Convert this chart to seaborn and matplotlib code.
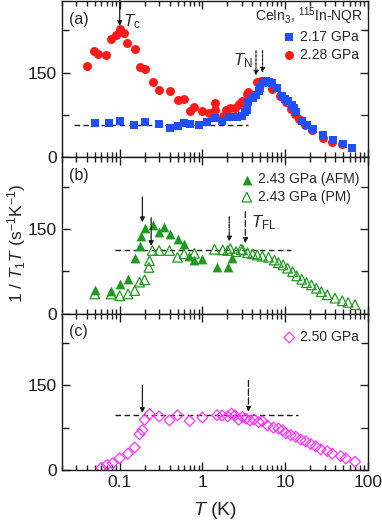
import numpy as np
import matplotlib
matplotlib.use("Agg")
import matplotlib.pyplot as plt
from matplotlib.ticker import MultipleLocator, LogLocator, NullFormatter
import seaborn as sns

# (a) 2.17 GPa, squares
t_217 = [0.050, 0.074, 0.10, 0.15, 0.20, 0.30, 0.40, 0.50, 0.60, 0.70, 0.90, 1.14, 1.43,
         1.73, 2.11, 2.3, 2.6, 2.97, 3.3, 3.45, 3.55, 4.04, 4.43, 4.77, 5.0, 5.43, 5.85,
         6.4, 6.9, 7.9, 9.1, 10.0, 10.9, 12.0, 12.8, 13.7, 16.2, 18.6, 21.7, 28.7, 38, 50, 64.6]
v_217 = [61, 60.5, 65, 58, 63, 59.5, 52, 55, 60.5, 59.5, 56.5, 63, 69,
         64, 72, 72, 71, 74, 80, 84, 99, 106, 110.6, 118, 123, 132, 136,
         133, 131, 123, 109, 103.5, 100.6, 92, 88, 80, 65, 56.5, 50.6, 39, 31, 23, 16.5]

# (a) 2.28 GPa, circles
t_228 = [0.040, 0.049, 0.055, 0.068, 0.079, 0.091, 0.10, 0.113, 0.124, 0.152, 0.174, 0.20,
         0.25, 0.30, 0.40, 0.50, 0.60, 0.70, 0.80, 0.99, 1.21, 1.43, 1.43, 1.79, 1.93, 2.17,
         2.45, 2.74, 3.0, 3.46, 3.55, 4.6, 5.1, 6.9, 8.6, 10.2, 11.7, 13.2, 14.7, 17.4, 20.9,
         28.7, 37, 49]
v_228 = [162, 189, 184, 181, 209, 216, 228, 221, 202, 192, 160.6, 157,
         134, 119.5, 117, 102, 104, 83, 89, 82, 78, 96, 84, 74, 84, 88,
         88, 95, 99.4, 112, 115, 133, 136, 121, 109, 97.6, 86, 77, 68, 58, 49,
         35, 27, 23]

# (b) 2.43 GPa AFM, filled triangles
t_afm = [0.050, 0.079, 0.10, 0.126, 0.152, 0.174, 0.18, 0.20, 0.252, 0.30, 0.34, 0.40,
         0.50, 0.60, 0.68, 0.79, 1.0, 1.5, 2.02, 2.28]
v_afm = [42, 41, 53, 62, 99, 120, 138, 151, 156.5, 145, 153, 141,
         132, 123.5, 102, 95, 96.5, 83.5, 82, 98]

# (b) 2.43 GPa PM, open triangles
t_pm = [0.050, 0.079, 0.10, 0.126, 0.152, 0.174, 0.20, 0.225, 0.229, 0.248, 0.30, 0.40,
        0.50, 0.60, 0.80, 1.4, 1.76, 2.02, 2.17, 2.55, 2.92, 3.06, 3.51, 4.04, 4.6, 5.3,
        6.3, 7.4, 8.3, 9.45, 10.7, 12.3, 13.8, 15.9, 18.1, 20.8, 23.9, 27.4, 32.3, 40, 49,
        57.6, 70]
v_pm = [35, 35, 32, 35, 41, 56, 60, 82, 94, 112, 112, 112,
        100, 106, 107, 114, 113, 112, 115.5, 110, 114, 113, 108, 106, 104, 102,
        100, 95, 90.5, 86.5, 80.6, 74.6, 67, 61, 55, 51, 45, 39, 33.5, 27.6, 23,
        20, 16]

# (c) 2.50 GPa, open diamonds
t_250 = [0.060, 0.070, 0.082, 0.10, 0.126, 0.152, 0.174, 0.188, 0.20, 0.23, 0.30, 0.40,
         0.50, 0.70, 1.0, 1.5, 1.73, 2.02, 2.25, 2.48, 2.74, 3.06, 3.37, 3.76, 4.2, 4.77,
         5.3, 6.1, 7.2, 8.3, 9.3, 10.2, 11.7, 13.4, 15.4, 17.7, 20.4, 23.5, 26.9, 32.3,
         37.1, 46.9, 54, 70]
v_250 = [4, 9, 12, 21, 29, 40, 63.5, 70.6, 89, 99, 95, 88,
         97, 87, 93, 97, 96.5, 95, 100, 97, 89, 94, 91, 88, 89.5, 85,
         86.5, 79, 75, 73.5, 70.6, 65, 62, 59, 54, 51, 46, 42, 36.5, 33.5,
         29, 24.7, 20.6, 14.7]

# guide lines (T range, level)
guide_a = ([0.028, 3.6], 56.5)
guide_b = ([0.087, 11.7], 112)
guide_c = ([0.087, 14.5], 97)

blue = "#1f4fff"
red = "#ff1a1a"
green = "#1f9a1f"
magenta = "#ff33ff"

sns.set_theme(style="ticks")
plt.rcParams["font.family"] = ["Liberation Sans", "DejaVu Sans"]
plt.rcParams["mathtext.fontset"] = "custom"
plt.rcParams["mathtext.rm"] = "Liberation Sans"
plt.rcParams["mathtext.it"] = "Liberation Sans:italic"
plt.rcParams["axes.linewidth"] = 1.0
plt.rcParams["xtick.direction"] = "in"
plt.rcParams["ytick.direction"] = "in"

fig = plt.figure(figsize=(3.82, 5.24), dpi=100)
axes = fig.subplots(3, 1, sharex=True)
fig.subplots_adjust(left=0.162, right=0.963, bottom=0.103, top=0.998, hspace=0)
ax_a, ax_b, ax_c = axes

sns.scatterplot(x=t_217, y=v_217, marker="s", s=32, color=blue, linewidth=0,
                ax=ax_a, label="2.17 GPa", zorder=3)
sns.scatterplot(x=t_228, y=v_228, marker="o", s=42, color=red, linewidth=0,
                ax=ax_a, label="2.28 GPa", zorder=2)
sns.scatterplot(x=t_afm, y=v_afm, marker="^", s=50, color=green, linewidth=0,
                ax=ax_b, label="2.43 GPa (AFM)", zorder=3)
sns.scatterplot(x=t_pm, y=v_pm, marker="^", s=48, facecolors="none", edgecolors=green,
                linewidth=0.9, ax=ax_b, label="2.43 GPa (PM)", zorder=2)
sns.scatterplot(x=t_250, y=v_250, marker="D", s=30, facecolors="none", edgecolors=magenta,
                linewidth=0.9, ax=ax_c, label="2.50 GPa", zorder=2)

for ax, (gx, gy) in zip(axes, [guide_a, guide_b, guide_c]):
    ax.plot(gx, [gy, gy], ls=(0, (4, 2.5)), color="k", lw=1.0, zorder=1)


def arrow(ax, x, y0, y1, ls="-"):
    ax.annotate("", xy=(x, y1), xytext=(x, y0),
                arrowprops=dict(arrowstyle="-|>", color="k", lw=0.9, ls=ls,
                                mutation_scale=7, shrinkA=0, shrinkB=0))


arrow(ax_a, 0.1, 290, 233)
arrow(ax_a, 4.44, 189, 145, ls=(0, (2, 1.2)))
arrow(ax_a, 5.33, 189, 150, ls=(0, (2, 1.2)))
ax_a.text(0.11, 240, r"$T_{\rm c}$", fontsize=12, va="center", ha="left")
ax_a.text(3.1, 172, r"$T_{\rm N}$", fontsize=12, va="center", ha="center")

arrow(ax_b, 0.188, 207, 162)
arrow(ax_b, 0.24, 170, 120)
arrow(ax_b, 2.11, 172, 128, ls=(0, (3, 1, 1, 1)))
arrow(ax_b, 3.3, 181, 125, ls=(0, (5, 2)))
ax_b.text(3.9, 162, r"$T_{\rm FL}$", fontsize=12, va="center", ha="left")

arrow(ax_c, 0.188, 150, 101)
arrow(ax_c, 3.6, 159, 103, ls=(0, (5, 2)))

for ax, tag in zip(axes, ["(a)", "(b)", "(c)"]):
    ax.text(0.022, 0.885, tag, transform=ax.transAxes, fontsize=11.5, va="center", ha="left")
ax_a.text(0.984, 0.9, r"CeIn$_3$, $^{115}$In-NQR", transform=ax_a.transAxes,
          fontsize=10, va="center", ha="right")

leg_kw = dict(frameon=False, fontsize=10, handletextpad=0.3, labelspacing=0.25,
              borderaxespad=0, handlelength=1.0, loc="upper right")
ax_a.legend(bbox_to_anchor=(0.99, 0.85), **leg_kw)
ax_b.legend(bbox_to_anchor=(0.99, 0.94), **leg_kw)
ax_c.legend(bbox_to_anchor=(0.99, 0.93), **leg_kw)

for ax in axes:
    ax.set_xscale("log")
    ax.set_xlim(0.02, 100)
    ax.set_ylim(0, 277)
    ax.yaxis.set_major_locator(MultipleLocator(150))
    ax.yaxis.set_minor_locator(MultipleLocator(75))
    ax.xaxis.set_major_locator(LogLocator(base=10, numticks=10))
    ax.xaxis.set_minor_locator(LogLocator(base=10, subs=np.arange(2, 10), numticks=10))
    ax.xaxis.set_minor_formatter(NullFormatter())
    ax.tick_params(which="both", top=True, right=True, labelsize=12.5, width=1.0, colors="k")
    ax.tick_params(which="major", length=6)
    ax.tick_params(which="minor", length=3.5)
    ax.tick_params(axis="y", which="minor", length=5)
    for sp in ax.spines.values():
        sp.set_color("k")

ax_c.set_xticks([0.1, 1, 10, 100])
ax_c.set_xticklabels(["0.1", "1", "10", "100"])
ax_c.set_xlabel(r"$T$ (K)", fontsize=14, labelpad=7)
ax_b.set_ylabel(r"1 / $T_1T$ (s$^{-1}$K$^{-1}$)", fontsize=12.5)
ax_b.yaxis.set_label_coords(-0.11, 0.45)

fig.savefig("out.png", dpi=100)
